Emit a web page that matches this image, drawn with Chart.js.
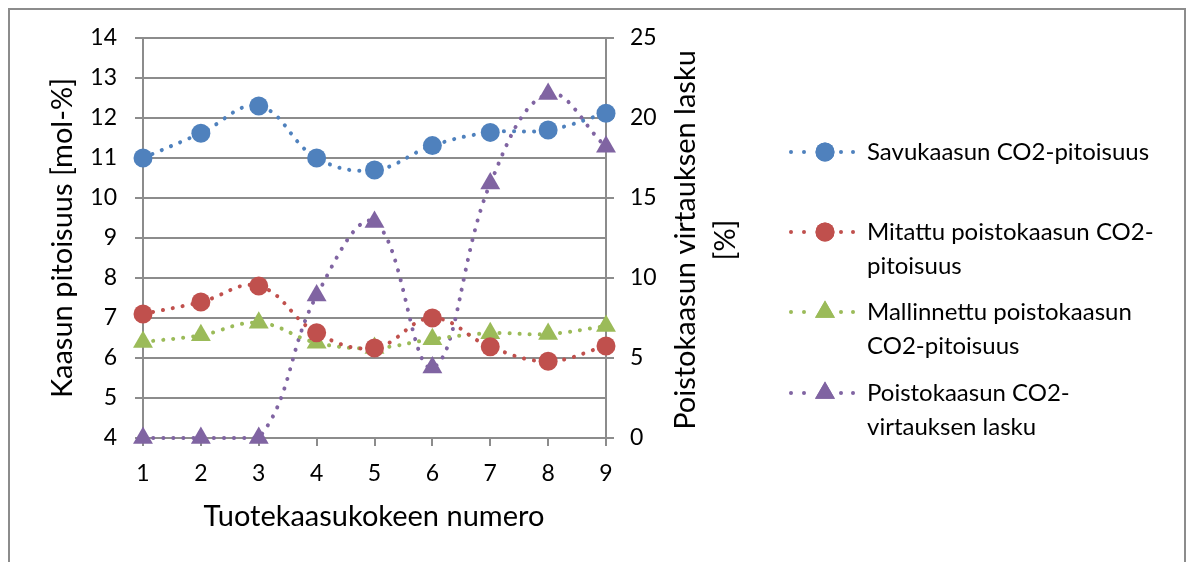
<!DOCTYPE html>
<html>
<head>
<meta charset="utf-8">
<script src="https://cdn.jsdelivr.net/npm/chart.js@4/dist/chart.umd.min.js"></script>
<style>
  body { margin: 0; background: #fff; }
  #frame { position: absolute; left: 8px; top: 8px; width: 1178px; height: 620px; box-sizing: border-box; border: 2px solid #8c8c8c; }
  #chart { position: absolute; left: 0; top: 0; }
</style>
</head>
<body>
<div id="frame"></div>
<canvas id="chart" width="1192" height="562"></canvas>
<script>
// Data
const categories = ['1', '2', '3', '4', '5', '6', '7', '8', '9'];
const savukaasuCO2 = [11.0, 11.62, 12.3, 11.0, 10.7, 11.31, 11.64, 11.7, 12.12];
const mitattuCO2 = [7.1, 7.4, 7.8, 6.63, 6.25, 7.0, 6.28, 5.92, 6.3];
const mallinnettuCO2 = [6.4, 6.57, 6.88, 6.38, 6.25, 6.47, 6.62, 6.6, 6.8];
const virtausLasku = [0, 0, 0, 8.9, 13.5, 4.4, 15.9, 21.5, 18.2];

const legendLines = [
    ['Savukaasun CO2-pitoisuus'],
    ['Mitattu poistokaasun CO2-', 'pitoisuus'],
    ['Mallinnettu poistokaasun', 'CO2-pitoisuus'],
    ['Poistokaasun CO2-', 'virtauksen lasku']
];

const FONT = 'Lato, "Open Sans", sans-serif';
const GRID = '#8c8c8c';

function series(label, data, color, shape, axis) {
    return {
        label: label,
        data: data,
        yAxisID: axis,
        borderColor: color,
        backgroundColor: color,
        borderWidth: 4,
        borderDash: [0.1, 10],
        borderCapStyle: 'round',
        tension: 0.4,
        pointStyle: shape,
        pointRadius: shape === 'circle' ? 9.5 : 11.5,
        pointBorderWidth: 0,
        clip: false,
        fill: false
    };
}

// Titles and legend drawn on the canvas
const titlesAndLegend = {
    id: 'titlesAndLegend',
    afterDraw(chart) {
        const ctx = chart.ctx;
        ctx.save();
        ctx.fillStyle = '#000';
        ctx.textBaseline = 'middle';

        // x title
        ctx.font = '29px ' + FONT;
        ctx.textAlign = 'center';
        ctx.fillText('Tuotekaasukokeen numero', 374, 517);

        // left y title
        ctx.save();
        ctx.translate(63, 238);
        ctx.rotate(-Math.PI / 2);
        ctx.fillText('Kaasun pitoisuus [mol-%]', 0, 0);
        ctx.restore();

        // right y title
        ctx.save();
        ctx.translate(706, 240);
        ctx.rotate(-Math.PI / 2);
        ctx.fillText('Poistokaasun virtauksen lasku', 0, -20);
        ctx.fillText('[%]', 0, 20);
        ctx.restore();

        // legend
        const rows = [152, 232, 312, 393];
        ctx.font = '24px ' + FONT;
        ctx.textAlign = 'left';
        chart.data.datasets.forEach((ds, i) => {
            const y = rows[i];
            ctx.fillStyle = ds.borderColor;
            [791, 804, 841, 853].forEach(x => {
                ctx.beginPath();
                ctx.arc(x, y, 2, 0, Math.PI * 2);
                ctx.fill();
            });
            Chart.helpers.drawPoint(ctx, { pointStyle: ds.pointStyle, radius: ds.pointRadius, borderWidth: 0 }, 825, y);
            ctx.fill();
            ctx.fillStyle = '#000';
            legendLines[i].forEach((line, j) => {
                ctx.fillText(line, 867, y + j * 34);
            });
        });
        ctx.restore();
    }
};

const ctx = document.getElementById('chart').getContext('2d');
new Chart(ctx, {
    type: 'line',
    data: {
        labels: categories,
        datasets: [
            series('Savukaasun CO2-pitoisuus', savukaasuCO2, '#4F81BD', 'circle', 'y'),
            series('Mitattu poistokaasun CO2-pitoisuus', mitattuCO2, '#C0504D', 'circle', 'y'),
            series('Mallinnettu poistokaasun CO2-pitoisuus', mallinnettuCO2, '#9BBB59', 'triangle', 'y'),
            series('Poistokaasun CO2-virtauksen lasku', virtausLasku, '#8064A2', 'triangle', 'y1')
        ]
    },
    options: {
        responsive: false,
        animation: false,
        devicePixelRatio: 1,
        layout: { padding: { top: 38, left: 0, right: 506, bottom: 64 } },
        plugins: {
            legend: { display: false },
            tooltip: { enabled: false }
        },
        scales: {
            x: {
                offset: false,
                grid: { drawOnChartArea: false, tickLength: 8, color: GRID, lineWidth: 2 },
                border: { color: GRID, width: 2 },
                ticks: { color: '#000', font: { family: FONT, size: 23 }, padding: 14, maxRotation: 0 },
                afterFit(scale) { scale.height = 60; }
            },
            y: {
                position: 'left',
                min: 4,
                max: 14,
                ticks: { stepSize: 1, color: '#000', font: { family: FONT, size: 23 }, padding: 18 },
                grid: { color: GRID, lineWidth: 2, tickLength: 8 },
                border: { color: GRID, width: 2 },
                afterFit(scale) { scale.width = 143; }
            },
            y1: {
                position: 'right',
                min: 0,
                max: 25,
                ticks: { stepSize: 5, color: '#000', font: { family: FONT, size: 23 }, padding: 16 },
                grid: { drawOnChartArea: false, color: GRID, lineWidth: 2, tickLength: 8 },
                border: { color: GRID, width: 2 },
                afterFit(scale) { scale.width = 80; }
            }
        }
    },
    plugins: [titlesAndLegend]
});
</script>
</body>
</html>
